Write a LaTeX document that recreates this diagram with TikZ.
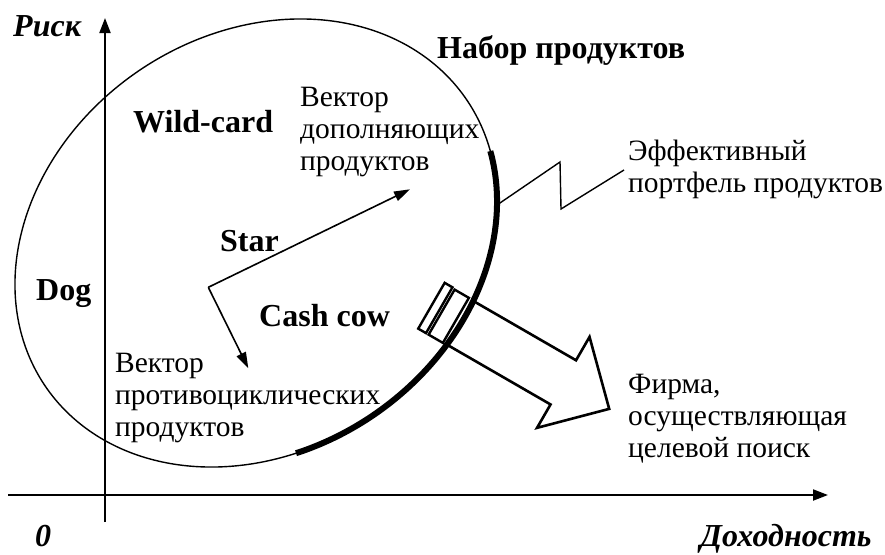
\documentclass[tikz,border=0pt]{standalone}
\usepackage{fontspec}
\setmainfont{Liberation Serif}
\usetikzlibrary{arrows.meta}
\begin{document}
\begin{tikzpicture}[x=1pt,y=-1pt,
  reg/.style={anchor=base west, inner sep=0pt, font=\fontsize{29.5}{33}\selectfont},
  lab/.style={anchor=base west, inner sep=0pt, font=\fontsize{32}{36}\selectfont\bfseries},
  axlab/.style={anchor=base west, inner sep=0pt, font=\fontsize{32}{36}\selectfont\bfseries\itshape},
  axisline/.style={line width=2pt, -{Triangle[length=15pt,width=11pt]}},
  vecline/.style={line width=1.6pt, -{Triangle[length=16pt,width=10pt]}},
  thinline/.style={line width=1.4pt},
  thickarc/.style={line width=6pt},
  bigarrow/.style={line width=2.6pt, line join=miter},
  boxpart/.style={line width=2.4pt, fill=white}
]
\useasboundingbox (0,0) rectangle (885,554);

% axes
\coordinate (xs) at (8,495);
\coordinate (xe) at (828,495);
\coordinate (ys) at (105,522);
\coordinate (ye) at (105,18);
\draw[axisline] (xs) -- (xe);
\draw[axisline] (ys) -- (ye);

% product set (tilted ellipse)
\draw[thinline] plot[domain=0:358, samples=180, smooth cycle, variable=\t]
  ({256+210.7*cos(\t)-117.1*sin(\t)}, {243-143.2*cos(\t)-172.3*sin(\t)});
% efficient portfolio (thick arc)
\draw[thickarc] plot[domain=-109.5:-15.5, samples=60, smooth, variable=\t]
  ({256+210.7*cos(\t)-117.1*sin(\t)}, {243-143.2*cos(\t)-172.3*sin(\t)});

% zigzag leader
\coordinate (z0) at (497,205);
\coordinate (z1) at (560,162);
\coordinate (z2) at (561,209);
\coordinate (z3) at (624,170);
\draw[thinline, line join=miter] (z0) -- (z1) -- (z2) -- (z3);

% vectors
\coordinate (o) at (208.3,287.3);
\coordinate (vup) at (410,189.3);
\coordinate (vdn) at (248.3,368.3);
\draw[vecline] (o) -- (vup);
\draw[vecline] (o) -- (vdn);

% big arrow with the two boxes
\begin{scope}[rotate=-30]
  \draw[bigarrow] (560,24) -- (679,24) -- (679,-3) -- (732,49.5) -- (679,102) -- (679,75) -- (559,75);
  \draw[boxpart] (526.5,22.6) rectangle (535.5,75.5);
  \draw[boxpart] (538.5,23.5) rectangle (555,75.5);
\end{scope}

% texts
\node[axlab] (risk) at (13,36) {Риск};
\node[lab] (nabor) at (437,58) {Набор продуктов};
\node[lab] (wild) at (133,132) {Wild-card};
\node[reg] (vd1) at (300,106) {Вектор};
\node[reg] (vd2) at (300,138) {дополняющих};
\node[reg] (vd3) at (300,170) {продуктов};
\node[reg] (ef1) at (628,160) {Эффективный};
\node[reg] (ef2) at (628,192) {портфель продуктов};
\node[lab] (star) at (220,251) {Star};
\node[lab] (dog) at (36,300) {Dog};
\node[lab] (cash) at (259,326) {Cash cow};
\node[reg] (vp1) at (115,372) {Вектор};
\node[reg] (vp2) at (115,404) {противоциклических};
\node[reg] (vp3) at (115,436) {продуктов};
\node[reg] (f1) at (628,393) {Фирма,};
\node[reg] (f2) at (628,425) {осуществляющая};
\node[reg] (f3) at (628,457) {целевой поиск};
\node[axlab] (zero) at (35,546) {0};
\node[axlab] (doh) at (700,546) {Доходность};
\end{tikzpicture}
\end{document}
